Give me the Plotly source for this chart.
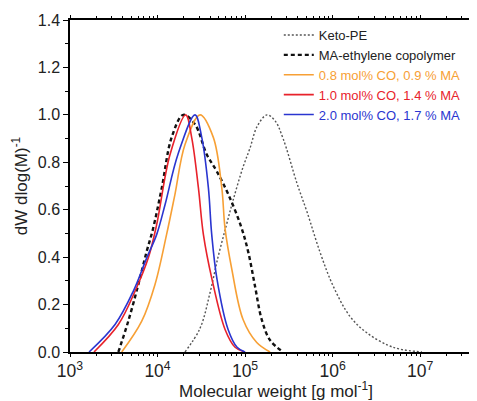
import plotly.graph_objects as go

# ---- data ----
keto_M = [20600, 30600, 39800, 49100, 60700, 73000, 94900, 114000, 137000, 178000,
          220000, 272000, 393000, 511000, 720000, 1010000, 1580000, 2480000, 4200000, 5900000, 10500000]
keto_w = [0.0, 0.10, 0.25, 0.40, 0.53, 0.64, 0.78, 0.86, 0.95, 1.0,
          0.975, 0.90, 0.71, 0.59, 0.42, 0.28, 0.15, 0.08, 0.03, 0.012, 0.0]

ma_M = [3570, 4630, 6040, 7530, 8890, 11200, 14500, 19700, 26800, 36500,
        47500, 64500, 89900, 109000, 130000, 155000, 193000, 272000]
ma_w = [0.0, 0.13, 0.285, 0.425, 0.52, 0.693, 0.905, 1.0, 0.96, 0.833,
        0.762, 0.664, 0.53, 0.42, 0.277, 0.137, 0.05, 0.0]

s08_M = [3900, 6600, 9360, 12700, 15800, 20600, 30600, 43400, 54200, 59100,
         70500, 94900, 136000, 193000]
s08_w = [0.0, 0.13, 0.285, 0.496, 0.664, 0.875, 1.0, 0.905, 0.693, 0.52,
         0.35, 0.137, 0.04, 0.0]

s10_M = [1880, 3570, 5530, 7850, 9790, 13900, 21000, 24600, 29300, 33400,
         42000, 59100, 76900, 100000]
s10_w = [0.0, 0.116, 0.256, 0.397, 0.538, 0.833, 1.0, 0.903, 0.693, 0.496,
         0.305, 0.095, 0.02, 0.0]

s20_M = [1650, 3270, 5280, 7530, 9790, 12200, 17100, 26800, 32000, 38100,
         41600, 47900, 64000, 81100, 100000]
s20_w = [0.0, 0.116, 0.256, 0.397, 0.496, 0.622, 0.833, 1.0, 0.905, 0.693,
         0.496, 0.305, 0.095, 0.02, 0.0]

names = ["Keto-PE", "MA-ethylene copolymer",
         "0.8 mol% CO, 0.9 % MA", "1.0 mol% CO, 1.4 % MA", "2.0 mol% CO, 1.7 % MA"]

x_title = "Molecular weight [g mol<sup>-1</sup>]"
y_title = "dW dlog(M)<sup>-1</sup>"

ORANGE = "#F7A035"
RED = "#E8222B"
BLUE = "#2A35D0"

fig = go.Figure()
fig.add_trace(go.Scatter(x=keto_M, y=keto_w, mode="lines", name=names[0],
                         line=dict(color="#555555", width=1.4, dash="2px,2px", shape="spline")))
fig.add_trace(go.Scatter(x=ma_M, y=ma_w, mode="lines", name=names[1],
                         line=dict(color="#111111", width=2.4, dash="4px,3px", shape="spline")))
fig.add_trace(go.Scatter(x=s08_M, y=s08_w, mode="lines",
                         name=f"<span style='color:{ORANGE}'>{names[2]}</span>",
                         line=dict(color=ORANGE, width=1.6, shape="spline")))
fig.add_trace(go.Scatter(x=s10_M, y=s10_w, mode="lines",
                         name=f"<span style='color:{RED}'>{names[3]}</span>",
                         line=dict(color=RED, width=1.6, shape="spline")))
fig.add_trace(go.Scatter(x=s20_M, y=s20_w, mode="lines",
                         name=f"<span style='color:{BLUE}'>{names[4]}</span>",
                         line=dict(color=BLUE, width=1.6, shape="spline")))

FONT = "Liberation Sans, Arial, sans-serif"
# page body has an 8px margin, so the figure is 8px smaller than the window
fig.update_layout(
    width=469, height=393,
    margin=dict(l=62, r=0, t=12, b=49, autoexpand=False),
    paper_bgcolor="white", plot_bgcolor="white",
    font=dict(family=FONT, color="#222"),
    showlegend=True,
    legend=dict(x=0.513, y=1.0, xanchor="left", yanchor="top",
                bgcolor="rgba(0,0,0,0)", font=dict(size=13, color="#222"),
                tracegroupgap=0, itemwidth=30),
    xaxis=dict(type="log", range=[3, 7.65], dtick=1, exponentformat="power",
               showgrid=False, zeroline=False, automargin=False,
               showline=True, linecolor="black", linewidth=1.5, mirror="ticks",
               ticks="outside", ticklen=3, tickwidth=1.2, tickcolor="black",
               minor=dict(ticks="outside", ticklen=2, dtick="D1", tickcolor="black", tickwidth=1),
               tickfont=dict(family=FONT, size=14, color="#222")),
    yaxis=dict(range=[0, 1.4], dtick=0.2, tickformat=".1f",
               showgrid=False, zeroline=False, automargin=False,
               showline=True, linecolor="black", linewidth=1.5,
               ticks="outside", ticklen=5, tickwidth=1.2, tickcolor="black",
               minor=dict(ticks="outside", ticklen=3, dtick=0.1, tickcolor="black", tickwidth=1),
               tickfont=dict(family=FONT, size=16, color="#222"),
               title=dict(text=y_title, font=dict(size=17, color="#222"), standoff=6)),
    annotations=[dict(text=x_title, xref="paper", yref="paper", x=0.505, y=-0.1145,
                      xanchor="center", yanchor="middle", showarrow=False,
                      font=dict(family=FONT, size=17, color="#222"))],
)

fig.write_html("out.html")
